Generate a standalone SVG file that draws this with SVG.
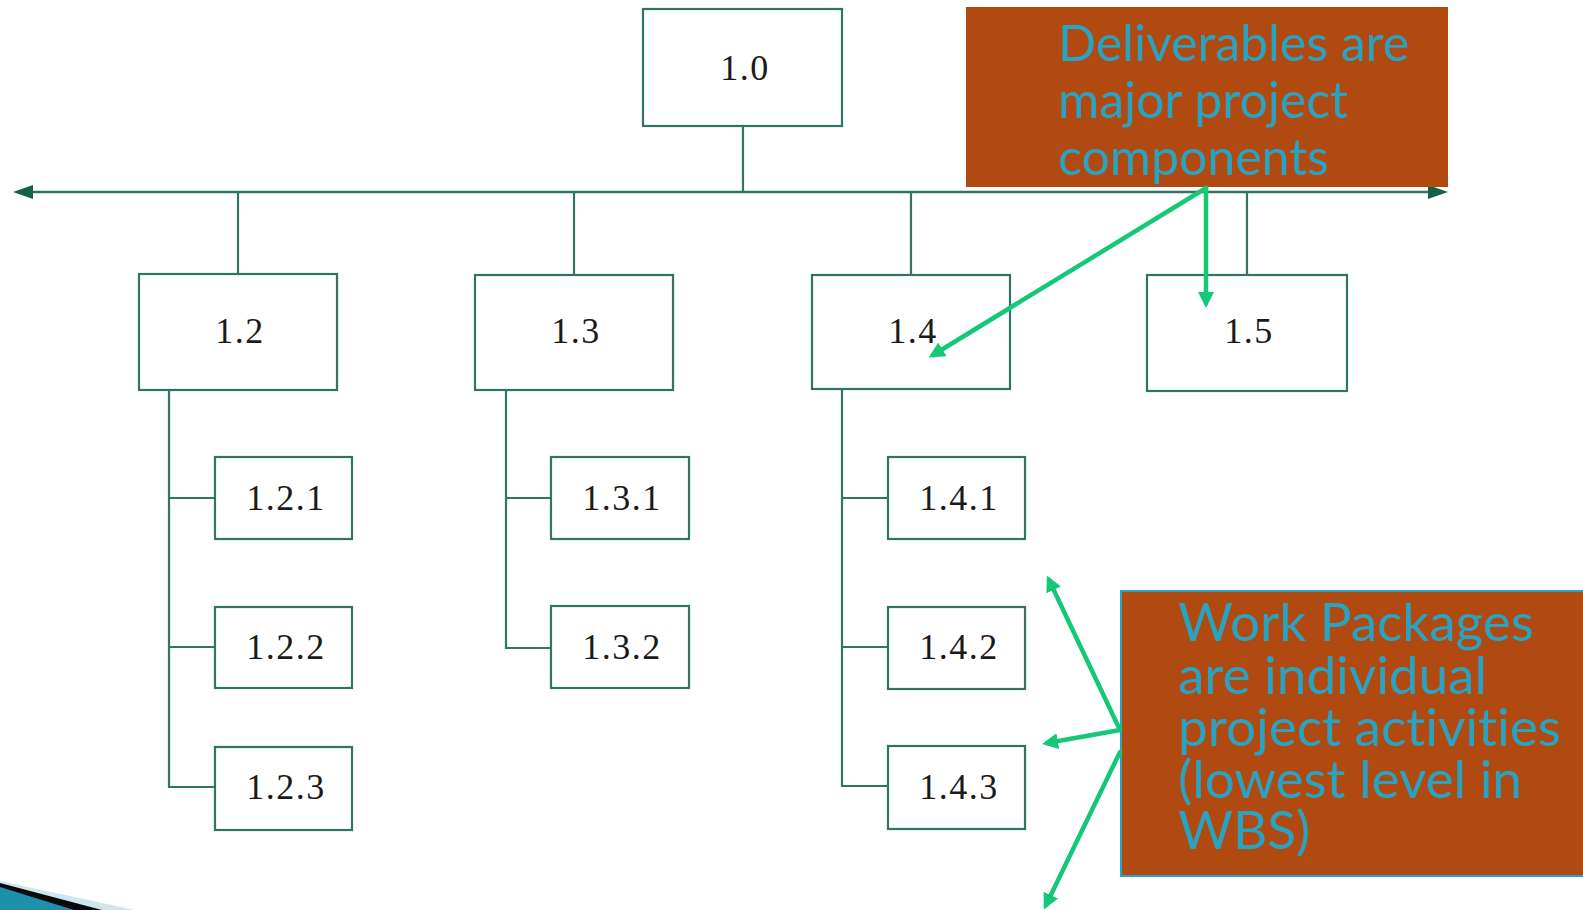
<svg xmlns="http://www.w3.org/2000/svg" width="1583" height="910" viewBox="0 0 1583 910">
<style>
.box{fill:#ffffff;stroke:#2f7464;stroke-width:2.2}
.lbl{font-family:"Liberation Serif","Times New Roman",serif;font-size:36px;letter-spacing:1.5px;fill:#1a1a1a;text-anchor:middle}
.con{fill:none;stroke:#2f7464;stroke-width:2.2}
.main{fill:none;stroke:#2f7464;stroke-width:2.6}
.call{fill:#b14a10}
.ctext{font-family:Lato,"Open Sans",sans-serif;font-size:50px;fill:#2aa3c3;font-variant-ligatures:none}
.wtext{font-family:Lato,"Open Sans",sans-serif;font-size:53px;fill:#2aa3c3;font-variant-ligatures:none}
.garrow{fill:none;stroke:#14c878;stroke-width:4.5;stroke-linecap:round}
</style>
<defs>
<marker id="ghead" markerUnits="userSpaceOnUse" markerWidth="18" markerHeight="16" refX="11" refY="8" orient="auto">
<path d="M0,0 L16,8 L0,16 z" fill="#14c878"/>
</marker>
</defs>
<rect width="1583" height="910" fill="#ffffff"/>

<g id="connectors">
<line class="main" x1="28" y1="192" x2="1432" y2="192"/>
<polygon points="13,192 33,185 33,199" fill="#15604d"/>
<polygon points="1448,192 1428,185 1428,199" fill="#15604d"/>
<line class="con" x1="743" y1="126" x2="743" y2="192"/>
<line class="con" x1="238" y1="192" x2="238" y2="274"/>
<line class="con" x1="574" y1="192" x2="574" y2="275"/>
<line class="con" x1="911" y1="192" x2="911" y2="275"/>
<line class="con" x1="1247" y1="192" x2="1247" y2="275"/>
<polyline class="con" points="169,390 169,787 215,787"/>
<line class="con" x1="169" y1="498" x2="215" y2="498"/>
<line class="con" x1="169" y1="647" x2="215" y2="647"/>
<polyline class="con" points="506,390 506,648 551,648"/>
<line class="con" x1="506" y1="498" x2="551" y2="498"/>
<polyline class="con" points="842,389 842,786 888,786"/>
<line class="con" x1="842" y1="498" x2="888" y2="498"/>
<line class="con" x1="842" y1="647" x2="888" y2="647"/>
</g>

<g id="n1-0"><rect class="box" x="643" y="9" width="199" height="117"/><text class="lbl" x="745" y="80">1.0</text></g>
<g id="n1-2"><rect class="box" x="139" y="274" width="198" height="116"/><text class="lbl" x="240" y="343">1.2</text></g>
<g id="n1-3"><rect class="box" x="475" y="275" width="198" height="115"/><text class="lbl" x="576" y="343">1.3</text></g>
<g id="n1-4"><rect class="box" x="812" y="275" width="198" height="114"/><text class="lbl" x="913" y="343">1.4</text></g>
<g id="n1-5"><rect class="box" x="1147" y="275" width="200" height="116"/><text class="lbl" x="1249" y="343">1.5</text></g>

<g id="n1-2-1"><rect class="box" x="215" y="457" width="137" height="82"/><text class="lbl" x="286" y="510">1.2.1</text></g>
<g id="n1-2-2"><rect class="box" x="215" y="607" width="137" height="81"/><text class="lbl" x="286" y="659">1.2.2</text></g>
<g id="n1-2-3"><rect class="box" x="215" y="747" width="137" height="83"/><text class="lbl" x="286" y="799">1.2.3</text></g>
<g id="n1-3-1"><rect class="box" x="551" y="457" width="138" height="82"/><text class="lbl" x="622" y="510">1.3.1</text></g>
<g id="n1-3-2"><rect class="box" x="551" y="606" width="138" height="82"/><text class="lbl" x="622" y="659">1.3.2</text></g>
<g id="n1-4-1"><rect class="box" x="888" y="457" width="137" height="82"/><text class="lbl" x="959" y="510">1.4.1</text></g>
<g id="n1-4-2"><rect class="box" x="888" y="607" width="137" height="82"/><text class="lbl" x="959" y="659">1.4.2</text></g>
<g id="n1-4-3"><rect class="box" x="888" y="746" width="137" height="83"/><text class="lbl" x="959" y="799">1.4.3</text></g>

<g id="callout-deliverables">
<rect class="call" x="966" y="7" width="482" height="180"/>
<text class="ctext" x="1058" y="61">Deliverables are</text>
<text class="ctext" x="1058" y="118">major project</text>
<text class="ctext" x="1058" y="175">components</text>
</g>

<g id="callout-workpackages">
<rect class="call" x="1121" y="591" width="470" height="285" stroke="#2aa4c4" stroke-width="2"/>
<text class="wtext" x="1178" y="641">Work Packages</text>
<text class="wtext" x="1178" y="694">are individual</text>
<text class="wtext" x="1178" y="746">project activities</text>
<text class="wtext" x="1178" y="798">(lowest level in</text>
<text class="wtext" x="1178" y="849">WBS)</text>
</g>

<g id="pointer-arrows">
<line class="garrow" x1="1206" y1="188" x2="933" y2="355" marker-end="url(#ghead)"/>
<line class="garrow" x1="1206" y1="188" x2="1206" y2="303" marker-end="url(#ghead)"/>
<line class="garrow" x1="1120" y1="730" x2="1049" y2="580" marker-end="url(#ghead)"/>
<line class="garrow" x1="1120" y1="730" x2="1047" y2="743" marker-end="url(#ghead)"/>
<line class="garrow" x1="1120" y1="752" x2="1046" y2="905" marker-end="url(#ghead)"/>
</g>

<g id="corner">
<polygon points="0,881 135,910 0,910" fill="#cfe6ef"/>
<polygon points="0,883 102,910 0,910" fill="#0a0a0a"/>
<polygon points="0,887 74,910 0,910" fill="#1f8fae"/>
</g>
</svg>
